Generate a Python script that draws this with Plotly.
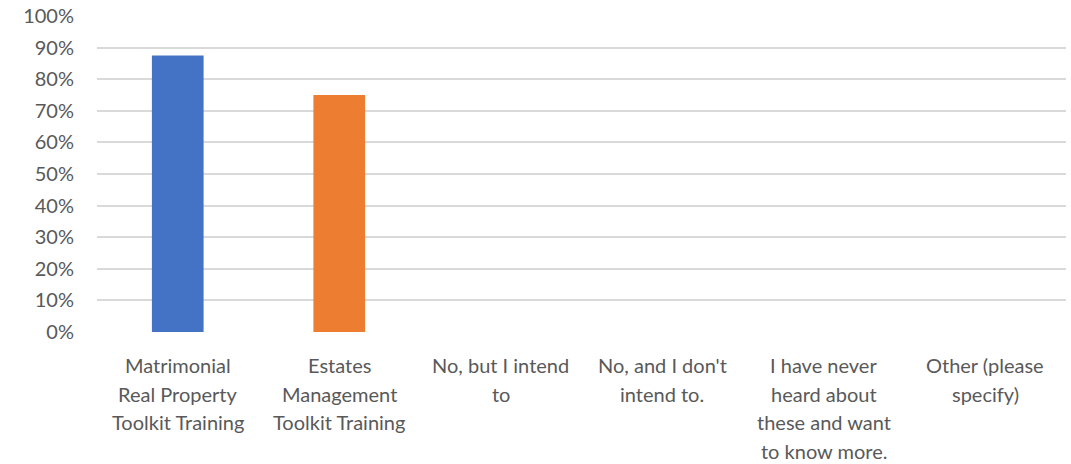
import plotly.graph_objects as go

# Survey responses: share of respondents per answer
categories = [
    "Matrimonial Real Property Toolkit Training",
    "Estates Management Toolkit Training",
    "No, but I intend to",
    "No, and I don't intend to.",
    "I have never heard about these and want to know more.",
    "Other (please specify)",
]
values = [0.875, 0.75, 0.0, 0.0, 0.0, 0.0]
bar_colors = ["#4472C4", "#ED7D31", "#4472C4", "#4472C4", "#4472C4", "#4472C4"]

# Wrapped category labels, one list of lines per category
label_lines = [
    ["Matrimonial", "Real Property", "Toolkit Training"],
    ["Estates", "Management", "Toolkit Training"],
    ["No, but I intend", "to"],
    ["No, and I don't", "intend to."],
    ["I have never", "heard about", "these and want", "to know more."],
    ["Other (please", "specify)"],
]

tick_vals = [i / 10 for i in range(11)]
tick_text = [f"{i * 10}%" for i in range(11)]

FONT = "Lato, 'Open Sans', sans-serif"
TEXT_COLOR = "#595959"

fig = go.Figure(
    go.Bar(
        x=categories,
        y=values,
        marker=dict(color=bar_colors, line=dict(width=0)),
        width=0.32,
        hoverinfo="x+y",
    )
)

annotations = []
for cat, lines in zip(categories, label_lines):
    for i, line in enumerate(lines):
        annotations.append(
            dict(
                x=cat,
                y=0,
                xref="x",
                yref="paper",
                text=line,
                showarrow=False,
                xanchor="center",
                yanchor="middle",
                yshift=-(33 + 28.5 * i),
                font=dict(family=FONT, size=20, color=TEXT_COLOR),
            )
        )

fig.update_layout(
    width=1071,
    height=464,
    margin=dict(l=97, r=5, t=16, b=132),
    paper_bgcolor="white",
    plot_bgcolor="white",
    showlegend=False,
    bargap=0.68,
    annotations=annotations,
    xaxis=dict(
        showticklabels=False,
        showgrid=False,
        zeroline=False,
        showline=False,
        ticks="",
        automargin=False,
    ),
    yaxis=dict(
        range=[0, 1.0],
        tickvals=tick_vals,
        ticktext=tick_text,
        showgrid=True,
        gridcolor="#D9D9D9",
        gridwidth=1.5,
        zeroline=False,
        showline=False,
        ticks="",
        automargin=False,
        ticklabelstandoff=22,
        tickfont=dict(family=FONT, size=20, color=TEXT_COLOR),
    ),
)

fig.write_html("out.html")
